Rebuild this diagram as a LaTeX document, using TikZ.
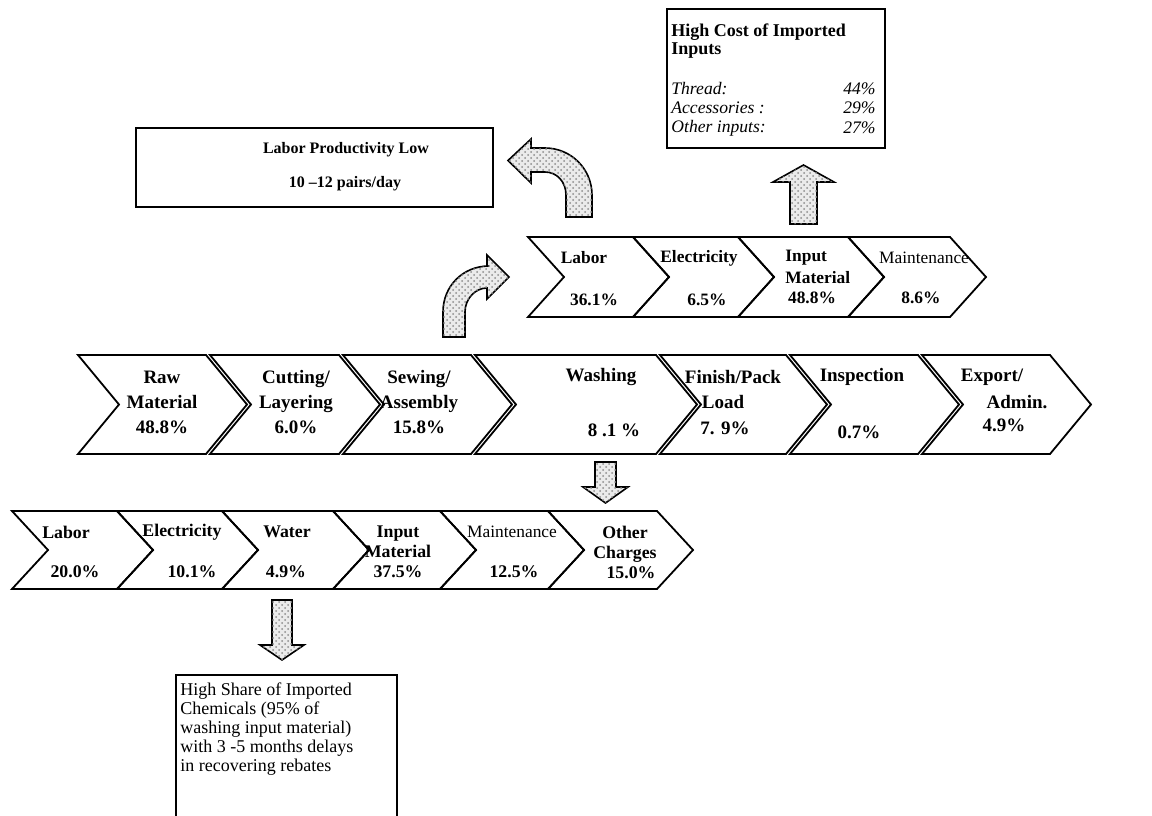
\documentclass[tikz,border=0pt]{standalone}
\usepackage{fontspec}
\setmainfont{Liberation Serif}
\usetikzlibrary{calc, patterns}

\begin{document}
\begin{tikzpicture}[
    x=0.5pt, y=-0.5pt, % Pixelmass, y nach unten
    kette/.style={line width=0.9pt, line join=miter}, % Style fuer die Pfeilketten
    kasten/.style={draw, line width=0.9pt}, % Style fuer Textkaesten
    pfeil/.style={draw, line width=0.8pt, fill=black!8, line join=miter,
      postaction={pattern=crosshatch dots, pattern color=black!45}}, % Blockpfeile
    haupt/.style={font=\fontsize{9.5}{12.5}\selectfont\bfseries, align=center, inner sep=0pt},
    oben/.style={font=\fontsize{8.7}{10}\selectfont\bfseries, align=center, inner sep=0pt},
    unten/.style={font=\fontsize{8.9}{10}\selectfont\bfseries, align=center, inner sep=0pt},
    duenn/.style={font=\fontsize{8.7}{10}\selectfont, inner sep=0pt},
    titel/.style={font=\fontsize{9}{9.5}\selectfont\bfseries, inner sep=0pt},
    liste/.style={font=\fontsize{8.8}{9.5}\selectfont\itshape, inner sep=0pt},
  ]

  \useasboundingbox (0,0) rectangle (1152,815);

  % Groessen
  \def\hd{41} % Spitze Hauptkette
  \def\kd{36} % Spitze kleine Ketten

  % Hauptkette
  \foreach \xa/\xb in {78/206, 210/339, 343/471, 475/656, 660/786, 790/918, 922/1050}
  \draw[kette] (\xa,355) -- (\xb,355) -- (\xb+\hd,404.5) -- (\xb,454)
    -- (\xa,454) -- (\xa+\hd,404.5) -- cycle;

  % obere Kette (Naehen)
  \foreach \xa/\xb in {528/633, 633/738, 738/848, 848/950}
  \draw[kette] (\xa,237) -- (\xb,237) -- (\xb+\kd,277) -- (\xb,317)
    -- (\xa,317) -- (\xa+\kd,277) -- cycle;

  % untere Kette (Waschen)
  \foreach \xa/\xb in {12/117, 117/222, 222/333, 333/440, 440/548, 548/657}
  \draw[kette] (\xa,511) -- (\xb,511) -- (\xb+\kd,550) -- (\xb,589)
    -- (\xa,589) -- (\xa+\kd,550) -- cycle;

  % Blockpfeile
  \draw[pfeil] (592,217) -- (592,195) .. controls (592,169) and (571,148) .. (545,148)
    -- (531,148) -- (531,139) -- (508,160.5) -- (531,183) -- (531,172) -- (545,172)
    .. controls (557,172) and (566,182) .. (566,195) -- (566,217) -- cycle;
  \draw[pfeil] (443,337) -- (443,312) .. controls (443,286) and (463,266) .. (489,266)
    -- (487,266) -- (487,255) -- (509,277) -- (487,299) -- (487,288)
    .. controls (475,288) and (465,299) .. (465,312) -- (465,337) -- cycle;
  \draw[pfeil] (790,224) -- (790,182) -- (773,182) -- (803.5,165) -- (834,182)
    -- (817,182) -- (817,224) -- cycle;
  \draw[pfeil] (595,462) -- (595,487) -- (583,487) -- (605.5,503) -- (628,487)
    -- (616,487) -- (616,462) -- cycle;
  \draw[pfeil] (272,600) -- (272,645) -- (260,645) -- (282,660) -- (304,645)
    -- (292,645) -- (292,600) -- cycle;

  % Kaesten
  \draw[kasten] (667,9) rectangle (885,148);
  \draw[kasten] (136,128) rectangle (493,207);
  \draw[kasten] (176,675) rectangle (397,840);

  % Texte Hauptkette
  \node[haupt] (raw) at (162,402) {Raw\\Material\\48.8\%};
  \node[haupt] (cut) at (296,402) {Cutting/\\Layering\\6.0\%};
  \node[haupt] (sew) at (419,402) {Sewing/\\Assembly\\15.8\%};
  \node[haupt] (wash) at (601,377) {Washing};
  \node[haupt] (washw) at (614,430) {8 .1 \%};
  \node[haupt] (fin) at (733,377) {Finish/Pack};
  \node[haupt] (load) at (723,402) {Load};
  \node[haupt] (finw) at (725,428) {7. 9\%};
  \node[haupt] (insp) at (862,377) {Inspection};
  \node[haupt] (inspw) at (859,432) {0.7\%};
  \node[haupt] (exp) at (992,377) {Export/};
  \node[haupt] (adm) at (1017,402) {Admin.};
  \node[haupt] (expw) at (1004,425) {4.9\%};

  % Texte obere Kette
  \node[oben] (slab) at (584,258) {Labor};
  \node[oben] (slabw) at (594,300) {36.1\%};
  \node[oben] (sel) at (699,258) {Electricity};
  \node[oben] (selw) at (707,300) {6.5\%};
  \node[oben, anchor=west] (sin) at (785,258) {Input};
  \node[oben, anchor=west] (sinm) at (785,278) {Material};
  \node[oben] (sinw) at (812,298) {48.8\%};
  \node[duenn] (sma) at (924,258) {Maintenance};
  \node[oben] (smaw) at (921,298) {8.6\%};

  % Texte untere Kette
  \node[unten] (wlab) at (66,532) {Labor};
  \node[unten] (wlabw) at (75,572) {20.0\%};
  \node[unten] (wel) at (182,532) {Electricity};
  \node[unten] (welw) at (192,572) {10.1\%};
  \node[unten] (wwa) at (287,532) {Water};
  \node[unten] (wwaw) at (286,572) {4.9\%};
  \node[unten] (win) at (398,552) {Input\\Material\\37.5\%};
  \node[duenn] (wma) at (512,532) {Maintenance};
  \node[unten] (wmaw) at (514,572) {12.5\%};
  \node[unten] (wot) at (625,552) {Other\\Charges\\\hspace*{6pt}15.0\%};

  % Texte Kaesten
  \node[titel, anchor=west] (kt1) at (671,32) {High Cost of Imported};
  \node[titel, anchor=west] (kt2) at (671,51) {Inputs};
  \node[liste, anchor=west] (thr) at (671,89) {Thread:};
  \node[liste, anchor=west] (acc) at (671,108) {Accessories :};
  \node[liste, anchor=west] (oth) at (671,128) {Other inputs:};
  \node[liste, anchor=east] (thrw) at (876,89) {44\%};
  \node[liste, anchor=east] (accw) at (876,108) {29\%};
  \node[liste, anchor=east] (othw) at (876,128) {27\%};

  \node[font=\fontsize{8}{8}\selectfont\bfseries, inner sep=0pt] (lp1) at (346,150) {Labor Productivity Low};
  \node[font=\fontsize{8}{8}\selectfont\bfseries, inner sep=0pt] (lp2) at (345,184) {10 --12 pairs/day};

  \node[font=\fontsize{9}{9.5}\selectfont, align=left, anchor=north west, inner sep=0pt]
    (chem) at (180,682) {High Share of Imported\\Chemicals (95\% of\\washing input material)\\with 3 -5 months delays\\in recovering rebates};
\end{tikzpicture}
\end{document}
